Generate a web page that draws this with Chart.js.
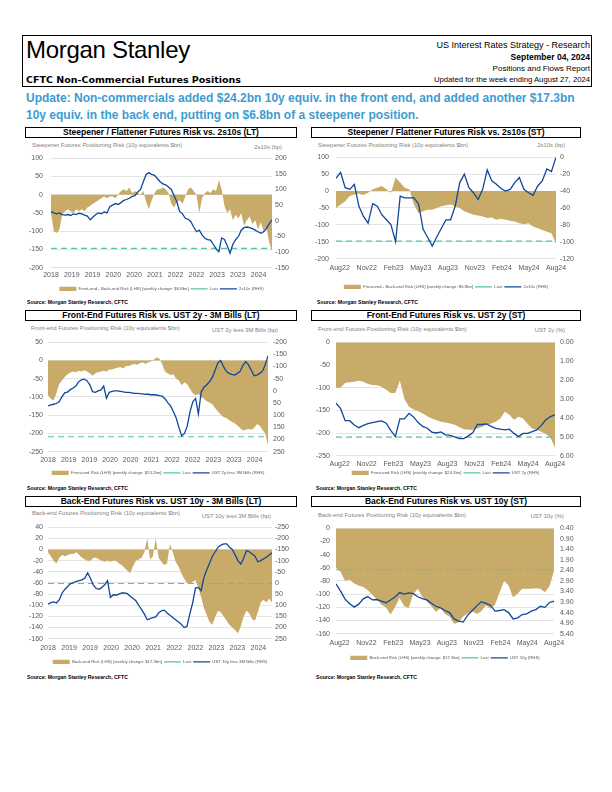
<!DOCTYPE html>
<html>
<head>
<meta charset="utf-8">
<script src="https://cdn.jsdelivr.net/npm/chart.js@4.4.1/dist/chart.umd.min.js"></script>
<style>
body{margin:0;width:612px;height:792px;background:#fff;position:relative;overflow:hidden;font-family:Arial,"Liberation Sans",sans-serif;color:#000}
.a{position:absolute;white-space:nowrap}
#hdr{left:22px;top:35px;width:568px;height:50px;border:1.5px solid #000}
.rt{right:22px;font-size:8px;text-align:right;line-height:9px}
.upd{left:26px;font-size:12px;font-weight:bold;color:#3d9bd1;line-height:14px}
.tb{border:1px solid #000;text-align:center;font-weight:bold;font-size:8.5px;line-height:9px;box-sizing:border-box}
.at{font-size:5.9px;color:#7f7f7f;line-height:7px}
.src{font-size:5.2px;font-weight:bold;line-height:6px}
canvas{position:absolute}
</style>
</head>
<body>
<div id="hdr" class="a"></div>
<div class="a" style="left:26px;top:38px;font-size:24px;line-height:24px;letter-spacing:-0.3px">Morgan Stanley</div>
<div class="a" style="left:26px;top:75px;font-size:9.5px;font-weight:bold;font-family:'DejaVu Sans',Verdana,sans-serif;line-height:10px">CFTC Non-Commercial Futures Positions</div>
<div class="a rt" style="top:41px;font-size:9px">US Interest Rates Strategy - Research</div>
<div class="a rt" style="top:53px;font-weight:bold;font-size:8.5px">September 04, 2024</div>
<div class="a rt" style="top:64px">Positions and Flows Report</div>
<div class="a rt" style="top:75px;font-size:7.7px">Updated for the week ending August 27, 2024</div>
<div class="a upd" style="top:91px">Update: Non-commercials added $24.2bn 10y equiv. in the front end, and added another $17.3bn</div>
<div class="a upd" style="top:108px">10y equiv. in the back end, putting on $6.8bn of a steepener position.</div>

<div class="a tb" style="left:25px;top:127px;width:272px;height:11px">Steepener / Flattener Futures Risk vs. 2s10s (LT)</div>
<div class="a tb" style="left:311px;top:127px;width:270px;height:11px">Steepener / Flattener Futures Risk vs. 2s10s (ST)</div>
<div class="a tb" style="left:25px;top:310px;width:272px;height:11px">Front-End Futures Risk vs. UST 2y - 3M Bills (LT)</div>
<div class="a tb" style="left:311px;top:310px;width:270px;height:11px">Front-End Futures Risk vs. UST 2y (ST)</div>
<div class="a tb" style="left:25px;top:496px;width:272px;height:11px">Back-End Futures Risk vs. UST 10y - 3M Bills (LT)</div>
<div class="a tb" style="left:311px;top:496px;width:270px;height:11px">Back-End Futures Risk vs. UST 10y (ST)</div>

<div class="a at" style="left:32px;top:142px">Steepener Futures Positioning Risk (10y equivalents $bn)</div>
<div class="a at" style="right:330px;top:144px">2s10s (bp)</div>
<div class="a at" style="left:318px;top:142px">Steepener Futures Positioning Risk (10y equivalents $bn)</div>
<div class="a at" style="right:47px;top:142px">2s10s (bp)</div>
<div class="a at" style="left:31px;top:325px">Front-end Futures Positioning Risk (10y equivalents $bn)</div>
<div class="a at" style="right:334px;top:327px">UST 2y less 3M Bills (bp)</div>
<div class="a at" style="left:318px;top:326px">Front-end Futures Positioning Risk (10y equivalents $bn)</div>
<div class="a at" style="right:47px;top:327px">UST 2y (%)</div>
<div class="a at" style="left:32px;top:510px">Back-end Futures Positioning Risk (10y equivalents $bn)</div>
<div class="a at" style="right:341px;top:513px">UST 10y less 3M Bills (bp)</div>
<div class="a at" style="left:318px;top:512px">Back-end Futures Positioning Risk (10y equivalents $bn)</div>
<div class="a at" style="right:48px;top:513px">UST 10y (%)</div>

<div class="a src" style="left:27px;top:299px">Source: Morgan Stanley Research, CFTC</div>
<div class="a src" style="left:317px;top:299px">Source: Morgan Stanley Research, CFTC</div>
<div class="a src" style="left:27px;top:485px">Source: Morgan Stanley Research, CFTC</div>
<div class="a src" style="left:316px;top:485px">Source: Morgan Stanley Research, CFTC</div>
<div class="a src" style="left:27px;top:674px">Source: Morgan Stanley Research, CFTC</div>
<div class="a src" style="left:316px;top:674px">Source: Morgan Stanley Research, CFTC</div>

<canvas id="c1"></canvas><canvas id="c2"></canvas><canvas id="c3"></canvas>
<canvas id="c4"></canvas><canvas id="c5"></canvas><canvas id="c6"></canvas>

<script>
// tick labels
const ltTickLabels = ["2018","2019","2019","2020","2020","2021","2022","2022","2023","2023","2024"];
const stTickLabels = ["Aug22","Nov22","Feb23","May23","Aug23","Nov23","Feb24","May24","Aug24"];

// long term: monthly, Jan 2018 - Aug 2024
const steepLtRisk = [-50,-100,-105,-95,-55,-45,-40,-45,-50,-40,
  -45,-40,-45,-35,-30,-25,-20,-15,-10,-5,
  -10,-5,-5,-10,0,10,15,10,20,5,
  10,5,0,10,-20,-40,-15,5,15,15,
  20,15,5,-25,-35,-20,-15,-25,-5,15,
  20,10,0,-50,-10,5,10,5,15,10,
  40,15,-30,-50,-40,-70,-55,-65,-50,-85,
  -70,-60,-80,-70,-95,-75,-100,-90,-130,-155];
const steepLt2s10s = [29,25,22,25,20,18,20,17,22,20,
  24,22,18,15,3,12,20,25,22,28,
  25,45,50,55,52,58,65,68,72,78,
  80,92,100,125,148,154,148,145,135,125,
  118,115,108,100,80,60,30,22,8,5,
  -3,-20,-35,-30,-45,-56,-60,-62,-75,-90,
  -99,-55,-60,-80,-104,-75,-60,-50,-30,-22,
  -20,-22,-25,-30,-35,-40,-35,-25,-10,3];
const steepLtLast = -147;

const frontLtRisk = [-95,-105,-110,-90,-65,-55,-45,-38,-33,-30,
  -32,-28,-30,-27,-30,-35,-42,-35,-32,-30,
  -28,-30,-25,-25,-22,-20,-18,-22,-15,-15,
  -12,-10,-12,-8,-5,-10,-5,-3,2,8,
  5,-10,-30,-35,-40,-38,-50,-55,-68,-60,
  -65,-78,-90,-95,-92,-100,-105,-112,-115,-120,
  -130,-140,-148,-155,-158,-163,-168,-172,-178,-185,
  -192,-190,-188,-190,-185,-175,-178,-190,-200,-232];
const frontLt2y3m = [62,58,55,52,45,25,8,5,-5,-12,
  -20,-38,-45,-48,-42,-25,3,6,0,-4,
  -20,30,6,2,0,0,2,4,6,6,
  8,10,10,11,12,14,14,16,16,17,
  20,22,32,48,62,85,110,150,185,175,
  145,85,45,31,95,5,-15,-25,-38,-55,
  -85,-115,-125,-100,-80,-72,-68,-65,-72,-80,
  -105,-120,-107,-85,-62,-65,-72,-80,-107,-145];
const frontLtLast = -209;

const backLtRisk = [-5,-12,-20,-25,-15,-10,-12,-10,-8,-8,
  -5,-10,-15,-18,-20,-20,-15,-15,-18,-20,
  -22,-20,-22,-20,-20,-25,-28,-33,-38,-42,
  -30,-20,-18,-15,-5,20,-18,-12,20,-15,
  -22,-28,-25,10,-5,-22,-30,-42,-52,-60,
  -62,-58,-55,-68,-85,-105,-118,-130,-135,-120,
  -110,-113,-120,-128,-135,-140,-145,-150,-138,-120,
  -110,-115,-125,-128,-112,-95,-90,-95,-88,-95];
const backLt10y3m = [95,88,85,90,75,45,28,15,3,-2,
  -7,-10,-14,-22,-45,-20,10,25,28,20,
  8,-10,65,53,55,50,45,45,48,60,
  70,80,100,120,140,165,160,155,152,135,
  125,122,135,145,155,165,175,185,200,195,
  140,90,23,20,35,-25,-59,-90,-120,-140,
  -160,-170,-175,-175,-160,-150,-126,-100,-85,-111,
  -145,-140,-130,-120,-95,-100,-108,-115,-125,-135];
const backLtLast = -61;

// short term: half-monthly, Aug 2022 - Aug 2024
const steepStRisk = [-50,-40,-30,-15,-10,-8,-12,-5,5,10,
  15,5,-5,40,25,10,5,-40,-65,-60,
  -55,-55,-50,-45,-42,-40,-45,-50,-60,-65,
  -70,-72,-75,-80,-78,-85,-82,-85,-88,-90,
  -95,-98,-95,-105,-110,-115,-120,-125,-155];
const steepSt2s10s = [-25,-18,-36,-38,-32,-58,-70,-78,-55,-58,
  -68,-74,-80,-100,-46,-48,-48,-48,-55,-85,
  -95,-105,-94,-84,-74,-74,-58,-30,-20,-36,
  -42,-50,-38,-15,-28,-32,-37,-40,-38,-30,
  -24,-38,-42,-45,-34,-28,-14,-17,0];
const steepStLast = -148;

const frontStRisk = [-101,-100,-90,-88,-87,-85,-87,-92,-94,-95,
  -98,-105,-112,-112,-85,-125,-142,-148,-152,-157,
  -163,-168,-172,-175,-177,-179,-182,-187,-192,-193,
  -193,-190,-186,-182,-179,-175,-168,-153,-160,-171,
  -164,-168,-180,-190,-193,-197,-202,-210,-232];
const frontSt2y = [3.23,3.50,4.15,4.15,4.38,4.52,4.40,4.30,4.25,4.20,
  4.16,4.28,4.66,4.99,4.05,4.05,3.76,3.95,4.25,4.45,
  4.55,4.75,4.80,4.74,4.90,4.93,5.00,5.10,5.10,4.95,
  4.78,4.35,4.35,4.32,4.45,4.56,4.60,4.63,4.60,4.82,
  4.99,4.82,4.82,4.73,4.64,4.40,4.10,3.93,3.84];
const frontStLast = -209;

const backStRisk = [-60,-66,-80,-78,-84,-87,-89,-94,-101,-108,
  -116,-120,-131,-120,-106,-118,-121,-100,-92,-104,
  -111,-118,-127,-121,-130,-134,-145,-143,-134,-129,
  -126,-130,-126,-117,-122,-116,-98,-80,-87,-105,
  -99,-92,-92,-92,-91,-92,-97,-88,-65];
const backSt10y = [3.04,3.38,3.76,3.98,4.14,4.00,3.75,3.64,3.80,3.78,
  3.86,3.93,3.80,3.66,3.45,3.52,3.47,3.50,3.65,3.74,
  3.80,3.96,4.10,4.18,4.30,4.40,4.70,4.80,4.85,4.52,
  4.30,4.08,3.88,3.96,4.05,4.33,4.30,4.26,4.40,4.70,
  4.65,4.49,4.46,4.33,4.26,4.10,4.15,3.92,3.86];
const backStLast = -63;

const GOLD = "#c9ab69";
const BLUE = "#10479a";
const TEAL = "#55c4aa";
const FONT = 'Arial, "Liberation Sans", sans-serif';
const LEG_PAD = 2;

function build(id, c) {
  // c.box: plot rect on the page [left, top, right, bottom], xLab / leg: label rows
  const [L, T, R, B] = c.box;
  const cv = document.getElementById(id);
  // y tick labels overhang the plot top by half a line plus their padding
  const top = T - (Math.max(c.padL, c.padR) + 4.2);
  const w = (R - L) + 60, h = Math.round(c.leg + 12 - top);
  cv.width = w; cv.height = h;
  cv.style.left = (L - 30) + "px"; cv.style.top = (c.leg + 12 - h) + "px";
  const xh = c.leg - B - 2 - LEG_PAD;
  const step = c.lt ? 1 : 0.5;
  const xMax = (c.risk.length - 1) * step;
  const labels = c.lt ? ltTickLabels : stTickLabels;
  const t0 = c.lt ? 0 : 0.4, tStep = c.lt ? 7.42 : 2.95;
  const tickFont = {family: FONT, size: 7};
  new Chart(cv, {
    type: "line",
    data: {
      datasets: [
        {label: c.riskLabel, data: c.risk.map((v, i) => ({x: i * step, y: v})), yAxisID: "y",
         fill: "origin", backgroundColor: GOLD, borderColor: GOLD, borderWidth: 0, pointRadius: 0,
         pointStyle: "rect", order: 2},
        {label: "Last", data: [{x: 0, y: c.last}, {x: xMax, y: c.last}], yAxisID: "y",
         borderColor: TEAL, backgroundColor: TEAL, borderDash: [6, 4], borderWidth: 1.2, pointRadius: 0,
         fill: false, pointStyle: "line", order: 1},
        {label: c.rateLabel, data: c.rate.map((v, i) => ({x: i * step, y: v})), yAxisID: "y1",
         borderColor: BLUE, backgroundColor: BLUE, borderWidth: 1.3, pointRadius: 0, fill: false,
         pointStyle: "line", order: 0}
      ]
    },
    options: {
      responsive: false, animation: false,
      layout: {padding: 0},
      plugins: {
        tooltip: {enabled: false},
        legend: {position: "bottom", labels: {usePointStyle: true, pointStyleWidth: 17, padding: LEG_PAD,
          color: "#555", font: {family: FONT, size: 4.3}, sort: (a, b) => a.datasetIndex - b.datasetIndex}}
      },
      scales: {
        x: {type: "linear", min: 0, max: xMax,
          afterBuildTicks: s => { s.ticks = labels.map((l, i) => ({value: t0 + i * tStep})); },
          ticks: {callback: (v, i) => labels[i], autoSkip: false, maxRotation: 0, padding: c.xLab - B - 4,
            color: "#595959", font: tickFont},
          grid: {display: false, drawTicks: false}, border: {display: false},
          afterFit: s => { s.height = xh; }},
        y: {position: "left", min: c.yl[0], max: c.yl[1],
          ticks: {stepSize: c.yl[2], padding: c.padL, autoSkip: false, color: "#595959", font: tickFont},
          grid: {color: "#d9d9d9", lineWidth: 0.7, drawTicks: false}, border: {display: false},
          afterFit: s => { s.width = 30; }},
        y1: {position: "right", min: c.yr[0], max: c.yr[1], reverse: !!c.rev,
          ticks: {stepSize: c.yr[2], padding: c.padR, autoSkip: false, color: "#595959", font: tickFont,
            callback: v => c.dec ? v.toFixed(2) : v},
          grid: {display: false, drawTicks: false}, border: {display: false},
          afterFit: s => { s.width = 30; }}
      }
    }
  });
}

build("c1", {lt: true, box: [51, 158, 272, 268], xLab: 275, leg: 289, padL: 8, padR: 3,
  risk: steepLtRisk, rate: steepLt2s10s, last: steepLtLast,
  riskLabel: "Front-end - Back-end Risk (LHS) [weekly change: $6.8bn]", rateLabel: "2s10s (RHS)",
  yl: [-200, 100, 50], yr: [-150, 200, 50]});
build("c2", {lt: false, box: [336, 157, 556, 259], xLab: 268, leg: 287, padL: 7, padR: 4,
  risk: steepStRisk, rate: steepSt2s10s, last: steepStLast,
  riskLabel: "Front-end - Back-end Risk (LHS) [weekly change: $6.8bn]", rateLabel: "2s10s (RHS)",
  yl: [-200, 100, 50], yr: [-120, 0, 20]});
build("c3", {lt: true, box: [48, 342, 268, 452], xLab: 460, leg: 473, padL: 5, padR: 5,
  risk: frontLtRisk, rate: frontLt2y3m, last: frontLtLast,
  riskLabel: "Front-end Risk (LHS) [weekly change: $24.2bn]", rateLabel: "UST 2y less 3M Bills (RHS)",
  yl: [-250, 50, 50], yr: [-200, 250, 50], rev: true});
build("c4", {lt: false, box: [336, 342, 555, 456], xLab: 464, leg: 473, padL: 6, padR: 5,
  risk: frontStRisk, rate: frontSt2y, last: frontStLast,
  riskLabel: "Front-end Risk (LHS) [weekly change: $24.2bn]", rateLabel: "UST 2y (RHS)",
  yl: [-250, 0, 50], yr: [0, 6, 1], rev: true, dec: true});
build("c5", {lt: true, box: [48, 527, 272, 639], xLab: 648, leg: 662, padL: 5, padR: 3,
  risk: backLtRisk, rate: backLt10y3m, last: backLtLast,
  riskLabel: "Back-end Risk (LHS) [weekly change: $17.3bn]", rateLabel: "UST 10y less 3M Bills (RHS)",
  yl: [-160, 40, 20], yr: [-250, 250, 50], rev: true});
build("c6", {lt: false, box: [336, 528, 554, 634], xLab: 643, leg: 658, padL: 6, padR: 6,
  risk: backStRisk, rate: backSt10y, last: backStLast,
  riskLabel: "Back-end Risk (LHS) [weekly change: $17.3bn]", rateLabel: "UST 10y (RHS)",
  yl: [-160, 0, 20], yr: [0.4, 5.4, 0.5], rev: true, dec: true});
</script>
</body>
</html>
